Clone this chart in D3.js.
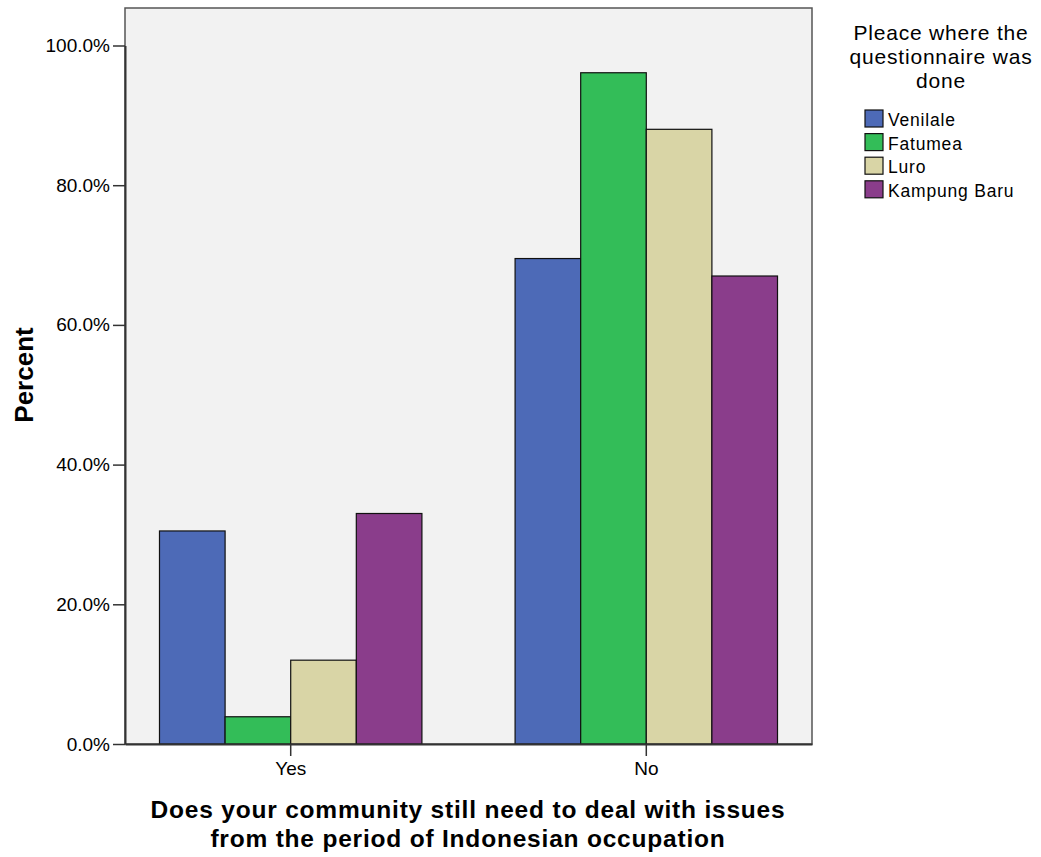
<!DOCTYPE html>
<html>
<head>
<meta charset="utf-8">
<script src="https://cdn.jsdelivr.net/npm/d3@7"></script>
<style>
  body { margin: 0; background: #fff; }
  svg text { font-family: "Liberation Sans", Arial, sans-serif; fill: #000; }
</style>
</head>
<body>
<svg id="chart" width="1041" height="857"></svg>
<script>
const categories = ["Yes", "No"];
const series = ["Venilale", "Fatumea", "Luro", "Kampung Baru"];
const venilale = [30.5, 69.5];
const fatumea = [3.9, 96.1];
const luro = [12.0, 88.0];
const kampungBaru = [33.0, 67.0];
const yTicks = [0, 20, 40, 60, 80, 100];
const colors = ["#4d6ab7", "#33bd58", "#d9d5a6", "#8a3d8b"];
const legendTitle = ["Pleace where the", "questionnaire was", "done"];
const xTitle = ["Does your community still need to deal with issues", "from the period of Indonesian occupation"];
const yTitle = "Percent";

const values = [venilale, fatumea, luro, kampungBaru];
const svg = d3.select("#chart");
const plot = { left: 125, right: 812, top: 8, bottom: 744 };

const x = d3.scaleBand().domain(categories).range([plot.left, plot.right]).paddingInner(0.262).paddingOuter(0.097);
const xs = d3.scaleBand().domain(series).range([0, x.bandwidth()]);
const y = d3.scaleLinear().domain([0, 100]).range([plot.bottom, plot.bottom - 698.5]);

// plot background
svg.append("rect")
  .attr("x", plot.left).attr("y", plot.top)
  .attr("width", plot.right - plot.left).attr("height", plot.bottom - plot.top)
  .attr("fill", "#f2f2f2").attr("stroke", "#555").attr("stroke-width", 1.5);

// bars
const groups = svg.append("g").selectAll("g").data(categories).join("g")
  .attr("transform", d => `translate(${x(d)},0)`);
groups.selectAll("rect").data((c, ci) => series.map((s, si) => ({ s, si, v: values[si][ci] })))
  .join("rect")
  .attr("x", d => xs(d.s)).attr("width", xs.bandwidth())
  .attr("y", d => y(d.v)).attr("height", d => y(0) - y(d.v))
  .attr("fill", d => colors[d.si]).attr("stroke", "#111").attr("stroke-width", 1.2);

// y axis
const yAxis = d3.axisLeft(y).tickValues(yTicks).tickSize(12).tickSizeOuter(0).tickPadding(3)
  .tickFormat(d => d3.format(".1f")(d) + "%");
const gy = svg.append("g").attr("transform", `translate(${plot.left},0)`).call(yAxis);
gy.select(".domain").attr("stroke", "#333").attr("stroke-width", 2);
gy.selectAll(".tick line").attr("stroke", "#333").attr("stroke-width", 1.5);
gy.selectAll(".tick text").attr("font-size", 19).attr("fill", "#222").style("font-family", "'Liberation Sans', Arial, sans-serif");

// x axis
const xAxis = d3.axisBottom(x).tickSize(12).tickSizeOuter(0).tickPadding(6);
const gx = svg.append("g").attr("transform", `translate(0,${plot.bottom})`).call(xAxis);
gx.select(".domain").attr("stroke", "#333").attr("stroke-width", 2);
gx.selectAll(".tick line").attr("stroke", "#333").attr("stroke-width", 1.5);
gx.selectAll(".tick text").attr("font-size", 19).attr("fill", "#222").style("font-family", "'Liberation Sans', Arial, sans-serif");

// axis titles
svg.append("text")
  .attr("transform", `translate(33,375) rotate(-90)`)
  .attr("text-anchor", "middle").attr("font-weight", "bold").attr("font-size", 26)
  .text(yTitle);
svg.append("text").attr("text-anchor", "middle").attr("font-weight", "bold").attr("font-size", 24.5)
  .style("letter-spacing", "0.8px")
  .selectAll("tspan").data(xTitle).join("tspan")
  .attr("x", 468).attr("y", (d, i) => 818 + i * 28.5).text(d => d);

// legend
svg.append("text").attr("text-anchor", "middle").attr("font-size", 21).attr("fill", "#222")
  .style("letter-spacing", "0.8px")
  .selectAll("tspan").data(legendTitle).join("tspan")
  .attr("x", 941).attr("y", (d, i) => 40 + i * 24).text(d => d);

const leg = svg.append("g").selectAll("g").data(series).join("g")
  .attr("transform", (d, i) => `translate(865,${110 + i * 23.6})`);
leg.append("rect").attr("width", 18).attr("height", 17)
  .attr("fill", (d, i) => colors[i]).attr("stroke", "#111").attr("stroke-width", 1.2);
leg.append("text").attr("x", 23).attr("y", 16).attr("font-size", 17.5).attr("fill", "#222")
  .style("letter-spacing", "0.8px").text(d => d);
</script>
</body>
</html>
